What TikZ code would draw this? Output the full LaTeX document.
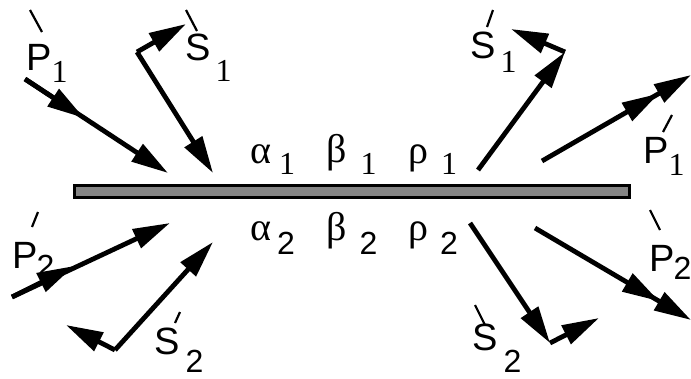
\documentclass[tikz,border=0pt]{standalone}
\usepackage{fontspec}
\setmainfont{Liberation Sans}
\newfontfamily\serifgr{Liberation Serif}
\newfontfamily\sanslab{Liberation Sans}
\usetikzlibrary{arrows.meta}
% lettera, pedice, distanza, abbassamento
\newcommand{\wlab}[4]{#1\hspace{#3}\raisebox{-#4}{\fontsize{32}{32}\selectfont #2}}

\begin{document}
\begin{tikzpicture}[x=1pt, y=-1pt, >={Triangle[length=37pt,width=20pt]},
    wave/.style={->, line width=4.8pt},
    tick/.style={line width=2.2pt},
    lab/.style={anchor=base west, inner sep=0pt, font=\fontsize{38}{38}\selectfont},
    greek/.style={anchor=base west, inner sep=0pt, font=\fontsize{40}{40}\selectfont\serifgr}]
    \useasboundingbox (0,0) rectangle (691,378);
    % Lastra
    \node[draw, line width=3pt, fill=black!48, minimum width=555pt, minimum height=12pt, inner sep=0pt] (plate) at (352,191.5) {};
    % Coefficienti
    \node[greek] (alpha1) at (250,163) {\wlab{α}{1}{8pt}{11pt}};
    \node[greek] (beta1) at (326,162) {\wlab{β}{1}{14pt}{12pt}};
    \node[greek] (rho1) at (408,163) {\wlab{ρ}{1}{13pt}{11pt}};
    \node[greek] (alpha2) at (250,240) {\wlab{α}{\sanslab 2}{6pt}{14pt}};
    \node[greek] (beta2) at (326,240) {\wlab{β}{\sanslab 2}{13pt}{14pt}};
    \node[greek] (rho2) at (408,240) {\wlab{ρ}{\sanslab 2}{12pt}{14pt}};
    % Punti delle onde
    \coordinate (p1a) at (25,79);   \coordinate (p1m) at (84,118);  \coordinate (p1b) at (168,173);
    \coordinate (s1c) at (137,52);  \coordinate (s1b) at (213,173); \coordinate (s1t) at (186,24);
    \coordinate (rs1a) at (478,170); \coordinate (rs1c) at (565,52); \coordinate (rs1t) at (511,29);
    \coordinate (rp1a) at (542,161); \coordinate (rp1b) at (691,75);
    \coordinate (p2a) at (12,297);  \coordinate (p2m) at (74,266);  \coordinate (p2b) at (170,223);
    \coordinate (s2c) at (115,350); \coordinate (s2b) at (213,242); \coordinate (s2t) at (66,325);
    \coordinate (rp2a) at (535,228); \coordinate (rp2b) at (691,320);
    \coordinate (rs2a) at (470,223); \coordinate (rs2c) at (550,343); \coordinate (rs2t) at (599,318);
    % Onde incidenti e riflesse, lato 1
    \draw[wave] (p1a) -- (p1b);
    \draw[wave] (p1a) -- (p1m);
    \draw[wave] (s1c) -- (s1b);
    \draw[wave] (s1c) -- (s1t);
    \draw[wave] (rs1a) -- (rs1c);
    \draw[wave] (rs1c) -- (rs1t);
    \draw[wave, ->>] (rp1a) -- (rp1b);
    % Onde incidenti e riflesse, lato 2
    \draw[wave] (p2a) -- (p2b);
    \draw[wave] (p2a) -- (p2m);
    \draw[wave] (s2c) -- (s2b);
    \draw[wave] (s2c) -- (s2t);
    \draw[wave] (rs2a) -- (rs2c);
    \draw[wave] (rs2c) -- (rs2t);
    \draw[wave, ->>] (rp2a) -- (rp2b);
    % Etichette
    \node[lab] (lp1) at (26,70) {\wlab{P}{\serifgr 1}{0pt}{12pt}};
    \node[lab] (ls1) at (185,60) {\wlab{S}{\serifgr 1}{5pt}{21pt}};
    \node[lab] (lrs1) at (470,58) {\wlab{S}{\serifgr 1}{5pt}{14pt}};
    \node[lab] (lrp1) at (643,163) {\wlab{P}{\serifgr 1}{0pt}{12pt}};
    \node[lab] (lp2) at (12,268) {\wlab{P}{2}{-1pt}{9pt}};
    \node[lab] (ls2) at (154,354) {\wlab{S}{2}{6pt}{18pt}};
    \node[lab] (lrp2) at (649,271) {\wlab{P}{2}{-1pt}{8pt}};
    \node[lab] (lrs2) at (472,350) {\wlab{S}{2}{6pt}{22pt}};
    % Accenti
    \draw[tick] (30,10) -- (42,32);
    \draw[tick] (186,10) -- (197,31);
    \draw[tick] (493,10) -- (487,27);
    \draw[tick] (672,115) -- (663,132);
    \draw[tick] (38,212) -- (32,227);
    \draw[tick] (180,312) -- (175,323);
    \draw[tick] (650,210) -- (660,230);
    \draw[tick] (475,305) -- (485,325);
\end{tikzpicture}
\end{document}
